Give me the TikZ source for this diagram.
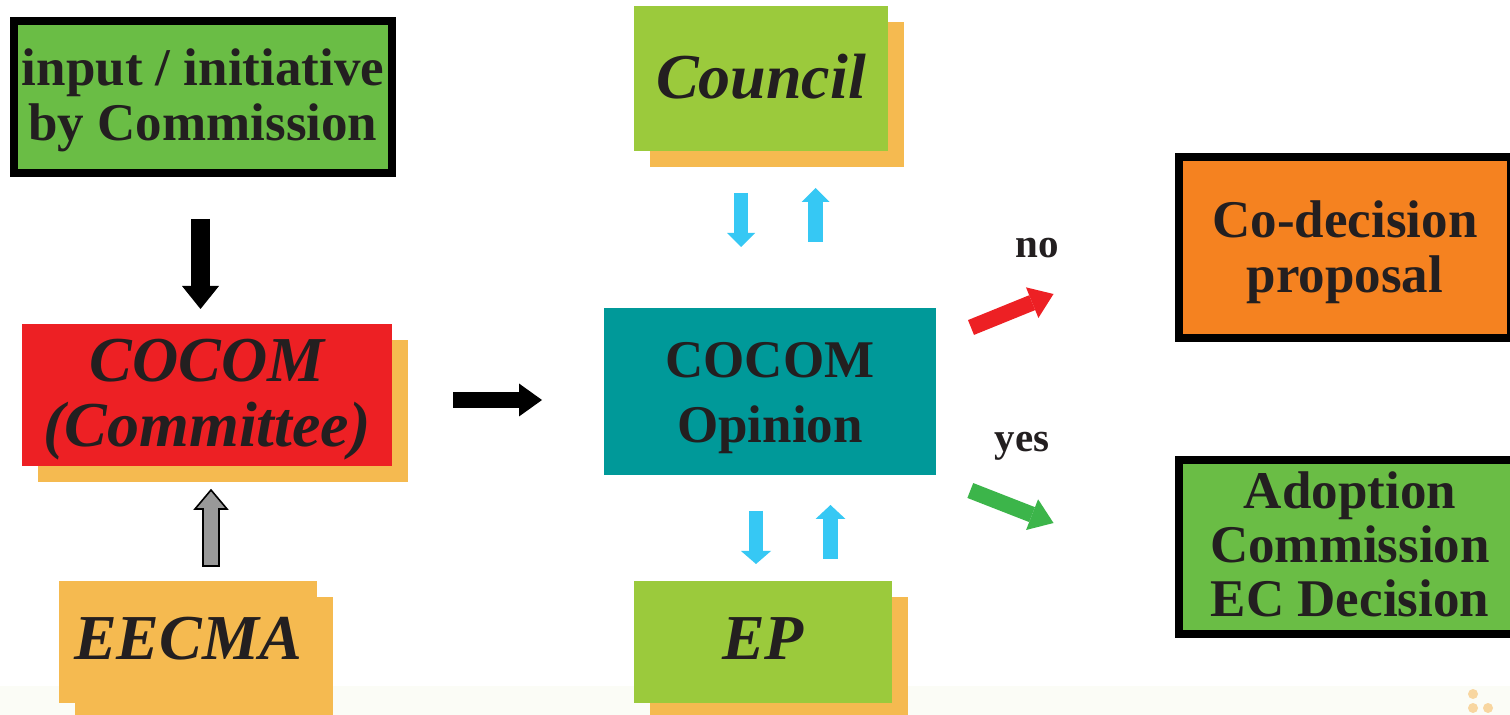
\documentclass[tikz,border=0pt]{standalone}
\usepackage{fontspec}
\setmainfont{Liberation Serif}
\usetikzlibrary{arrows.meta,shadows,calc}
\definecolor{txt}{HTML}{231F20}
\definecolor{boxgreen}{HTML}{6ABD45}
\definecolor{boxred}{HTML}{ED2024}
\definecolor{shadoworange}{HTML}{F5BA50}
\definecolor{limegreen}{HTML}{9BCA3C}
\definecolor{opinionteal}{HTML}{009999}
\definecolor{codecorange}{HTML}{F58220}
\definecolor{skyblue}{HTML}{36C8F4}
\definecolor{arrowred}{HTML}{ED2024}
\definecolor{arrowgreen}{HTML}{3CB54A}
\definecolor{arrowgray}{HTML}{999999}
\definecolor{stripcol}{HTML}{FBFCF6}
\definecolor{logocol}{HTML}{F8D6A0}
\tikzset{
  boxbase/.style={rectangle, inner sep=0pt, outer sep=0pt},
  uptext/.style={align=center, text=txt, inner sep=0pt, font=\fontsize{26.5}{27.25}\selectfont\bfseries},
  uptextwide/.style={align=center, text=txt, inner sep=0pt, font=\fontsize{26.5}{32.5}\selectfont\bfseries},
  ittext/.style={align=center, text=txt, inner sep=0pt, font=\fontsize{32}{32.5}\selectfont\bfseries\itshape},
  framed/.style={draw=black, line width=4pt},
  shadowed/.style={drop shadow={shadow xshift=8pt, shadow yshift=-8pt, opacity=1, fill=shadoworange}},
  fat/.style args={#1/#2/#3}{line width=#1, -{Triangle[width=#2,length=#3,line width=0pt]}},
  lbl/.style={text=txt, inner sep=0pt, anchor=base, font=\fontsize{20.5}{22}\selectfont\bfseries}
}
\begin{document}
\begin{tikzpicture}[x=0.5pt,y=-0.5pt]
\useasboundingbox (0,0) rectangle (1510,715);
\clip (0,0) rectangle (1510,715);
\fill[white] (0,0) rectangle (1510,715);
\fill[stripcol] (0,686) rectangle (1510,715);
\foreach \p in {(1473,694),(1473,708),(1488,708)} \fill[logocol] \p circle (5);

% boxes
\node[boxbase, framed, fill=boxgreen, minimum width=189pt, minimum height=76pt,
  label={[name=input-text, uptext, font=\fontsize{26.5}{27.5}\selectfont\bfseries, yshift=-1.5pt]center:input / initiative\\by Commission}] (input) at (203,97) {};
\node[boxbase, fill=boxred, shadowed, minimum width=185pt, minimum height=71pt,
  label={[name=cocom-text, ittext, yshift=-2.5pt]center:COCOM\\(Committee)}] (cocom) at (207,395) {};
\node[boxbase, fill=shadoworange, shadowed, minimum width=129pt, minimum height=61pt,
  label={[name=eecma-text, ittext, yshift=1.5pt]center:EECMA}] (eecma) at (188,642) {};
\node[boxbase, fill=opinionteal, minimum width=166pt, minimum height=83.5pt,
  label={[name=opinion-text, uptextwide, yshift=-3.4pt]center:COCOM\\Opinion}] (opinion) at (770,391.5) {};
\node[boxbase, fill=limegreen, shadowed, minimum width=127pt, minimum height=72.5pt,
  label={[name=council-text, ittext, yshift=0.75pt]center:Council}] (council) at (761,78.5) {};
\node[boxbase, fill=limegreen, shadowed, minimum width=129pt, minimum height=61pt,
  label={[name=ep-text, ittext, yshift=1.5pt]center:EP}] (ep) at (763,642) {};
\node[boxbase, framed, fill=codecorange, minimum width=166pt, minimum height=90.5pt,
  label={[name=codec-text, uptext, yshift=-2.5pt]center:Co-decision\\proposal}] (codec) at (1345,247.5) {};
\node[boxbase, framed, fill=boxgreen, minimum width=171pt, minimum height=87pt,
  label={[name=adopt-text, uptext, font=\fontsize{26.5}{27}\selectfont\bfseries, yshift=1.1pt]center:Adoption\\Commission\\EC Decision}] (adopt) at (1350,547) {};

% labels
\node[lbl] (no) at (1037.5,258) {no};
\node[lbl] (yes) at (1022,451.7) {yes};

% arrow end coordinates
\coordinate (a1s) at (200.5,219); \coordinate (a1e) at (200.5,309);
\coordinate (a2s) at (453,400);   \coordinate (a2e) at (542,400);
\coordinate (b1s) at (741,193);   \coordinate (b1e) at (741,247);
\coordinate (b2s) at (815.5,242); \coordinate (b2e) at (815.5,188);
\coordinate (b3s) at (756,511);   \coordinate (b3e) at (756,564);
\coordinate (b4s) at (830.5,559); \coordinate (b4e) at (830.5,505);
\coordinate (rs) at (971,327.5);  \coordinate (re) at (1053.5,294);
\coordinate (gs) at (970.3,490.5);\coordinate (ge) at (1053.5,523);
\coordinate (gtip) at (211,490);

\draw[black, fat=9.5pt/18.5pt/11.5pt] (a1s) -- (a1e);
\draw[black, fat=8pt/16.5pt/11.5pt] (a2s) -- (a2e);
\draw[skyblue, fat=7pt/14pt/7pt] (b1s) -- (b1e);
\draw[skyblue, fat=7.5pt/14pt/7pt] (b2s) -- (b2e);
\draw[skyblue, fat=7pt/15pt/6.5pt] (b3s) -- (b3e);
\draw[skyblue, fat=7.5pt/15pt/7pt] (b4s) -- (b4e);
\draw[arrowred, fat=8pt/16.5pt/11.5pt] (rs) -- (re);
\draw[arrowgreen, fat=8pt/16.5pt/11.5pt] (gs) -- (ge);
\filldraw[fill=arrowgray, draw=black, line width=0.8pt, line join=miter]
  (gtip) -- ++(16,19) -- ++(-8,0) -- ++(0,57) -- ++(-16,0) -- ++(0,-57) -- ++(-8,0) -- cycle;
\end{tikzpicture}
\end{document}
